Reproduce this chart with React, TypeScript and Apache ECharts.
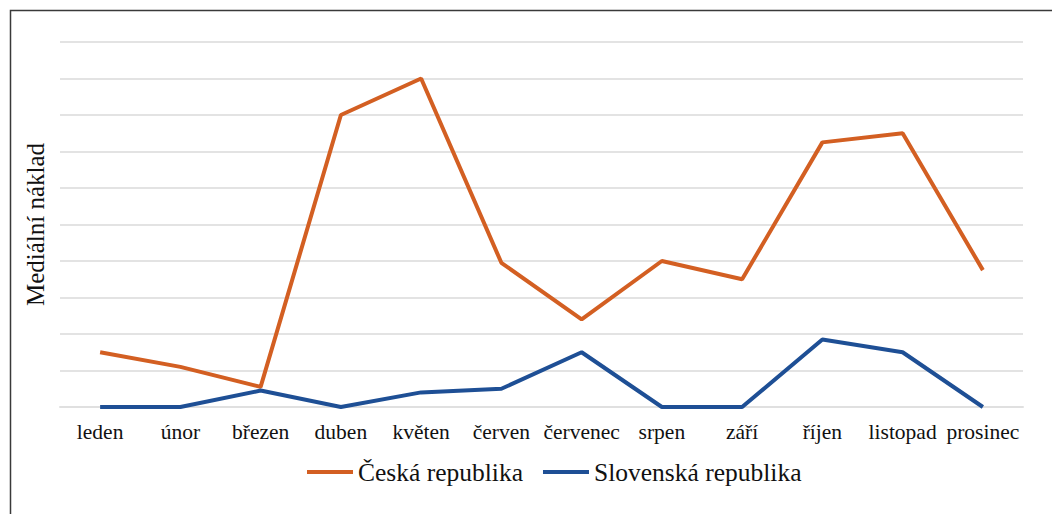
import React, { useEffect, useRef } from "react";
import * as echarts from "echarts";

// Months of the year (x axis)
const months = [
  "leden", "únor", "březen", "duben", "květen", "červen",
  "červenec", "srpen", "září", "říjen", "listopad", "prosinec",
];

// Media circulation per month
const czValues = [1.5, 1.1, 0.55, 8.0, 9.0, 3.95, 2.4, 4.0, 3.5, 7.25, 7.5, 3.75];
const skValues = [0, 0, 0.45, 0, 0.4, 0.5, 1.5, 0, 0, 1.85, 1.5, 0];

const seriesNames = ["Česká republika", "Slovenská republika"];
const seriesColors = ["#d35f22", "#1e4f95"];
const yAxisName = "Mediální náklad";

const FONT = "'Liberation Serif', 'Times New Roman', serif";

export default function App() {
  const ref = useRef<HTMLDivElement>(null);

  useEffect(() => {
    if (!ref.current) return;
    const chart = echarts.init(ref.current, undefined, { renderer: "svg" });
    chart.setOption({
      animation: false,
      backgroundColor: "#ffffff",
      graphic: [
        {
          type: "rect",
          shape: { x: 10.5, y: 10.5, width: 1060, height: 520 },
          style: { fill: "none", stroke: "#3a3a3a", lineWidth: 1.5 },
          silent: true,
        },
      ],
      grid: { left: 60, right: 29, top: 42, bottom: 107 },
      legend: {
        data: seriesNames,
        top: 454,
        left: 302,
        icon: "rect",
        itemWidth: 46,
        itemHeight: 4,
        itemGap: 20,
        textStyle: { fontFamily: FONT, fontSize: 25.5, color: "#111111" },
      },
      xAxis: {
        type: "category",
        data: months,
        boundaryGap: true,
        axisLine: { show: true, lineStyle: { color: "#e0e0e0", width: 2 } },
        axisTick: { show: false },
        axisLabel: {
          interval: 0,
          margin: 14,
          fontFamily: FONT,
          fontSize: 21.5,
          color: "#111111",
        },
      },
      yAxis: {
        type: "value",
        min: 0,
        max: 10,
        interval: 1,
        name: yAxisName,
        nameLocation: "middle",
        nameGap: 12,
        nameRotate: 90,
        nameTextStyle: { fontFamily: FONT, fontSize: 25, color: "#111111" },
        axisLabel: { show: false },
        axisLine: { show: false },
        axisTick: { show: false },
        splitLine: { lineStyle: { color: "#e3e3e3", width: 2 } },
      },
      series: [
        {
          name: seriesNames[0],
          type: "line",
          data: czValues,
          showSymbol: false,
          symbol: "none",
          color: seriesColors[0],
          lineStyle: { width: 4, color: seriesColors[0] },
        },
        {
          name: seriesNames[1],
          type: "line",
          data: skValues,
          showSymbol: false,
          symbol: "none",
          color: seriesColors[1],
          lineStyle: { width: 4, color: seriesColors[1] },
        },
      ],
    });
    return () => chart.dispose();
  }, []);

  return (
    <div
      ref={ref}
      style={{ position: "fixed", left: 0, top: 0, width: 1052, height: 514 }}
    />
  );
}
